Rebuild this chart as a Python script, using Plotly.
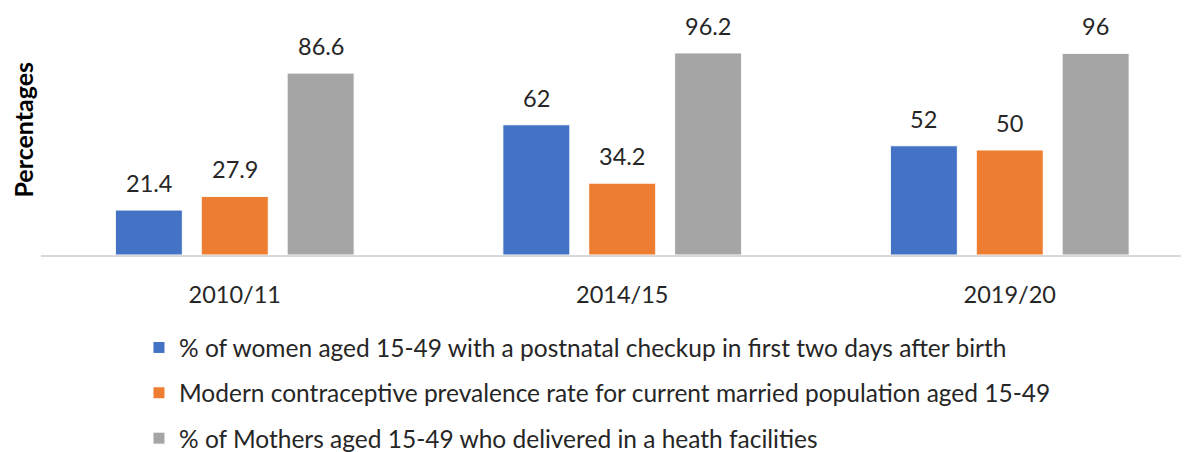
import plotly.graph_objects as go

categories = ["2010/11", "2014/15", "2019/20"]
postnatal = [21.4, 62, 52]
contraceptive = [27.9, 34.2, 50]
delivered = [86.6, 96.2, 96]
series_names = [
    "% of women aged 15-49 with a postnatal checkup in first two days after birth",
    "Modern contraceptive prevalence rate for current married population aged 15-49",
    "% of Mothers aged 15-49 who delivered in a heath facilities",
]
series_values = [postnatal, contraceptive, delivered]
colors = ["#4472C4", "#ED7D31", "#A5A5A5"]

FONT = "Lato"
TXT = "#262626"
BARGAP = 0.335
BARGROUPGAP = 0.22

fig = go.Figure()
for k, (name, vals, col) in enumerate(zip(series_names, series_values, colors)):
    fig.add_trace(go.Bar(
        x=categories, y=vals, name=name, legendgroup=f"g{k}",
        marker=dict(color=col, line=dict(color="white", width=1)),
    ))

# data labels above each bar, positioned from category index and bar slot offsets
slot = (1 - BARGAP) / len(series_values)
annotations = []
for k, vals in enumerate(series_values):
    off = (k - (len(series_values) - 1) / 2) * slot
    for i, v in enumerate(vals):
        annotations.append(dict(
            x=i + off, y=v, xref="x", yref="y", text=f"{v:g}",
            showarrow=False, yanchor="middle", yshift=27,
            font=dict(family=FONT, size=23.5, color=TXT),
        ))
annotations.append(dict(
    x=0, y=0.508, xref="paper", yref="paper", xshift=-18, xanchor="center",
    text="<b>Percentages</b>", textangle=-90, showarrow=False,
    font=dict(family=FONT, size=25, color="#000000"),
))

fig.update_layout(
    width=1181, height=444,
    margin=dict(l=33, r=0, t=0, b=197, autoexpand=False),
    paper_bgcolor="white", plot_bgcolor="white",
    barmode="group", bargap=BARGAP, bargroupgap=BARGROUPGAP,
    font=dict(family=FONT, size=23, color=TXT),
    xaxis=dict(
        type="category", range=[-0.5, 2.4626],
        showline=True, linecolor="#D9D9D9", linewidth=2,
        ticks="", ticklabelstandoff=18, showgrid=False,
        tickfont=dict(family=FONT, size=23.5, color=TXT),
    ),
    yaxis=dict(range=[0, 117.6], visible=False, showgrid=False, zeroline=False),
    showlegend=True,
    legend=dict(
        orientation="v", xref="container", yref="container",
        x=0.1109, xanchor="left", y=0.286, yanchor="top",
        traceorder="grouped", tracegroupgap=10.5,
        font=dict(family=FONT, size=24.5, color=TXT),
        bgcolor="rgba(0,0,0,0)",
    ),
    annotations=annotations,
)

fig.write_html("out.html")
